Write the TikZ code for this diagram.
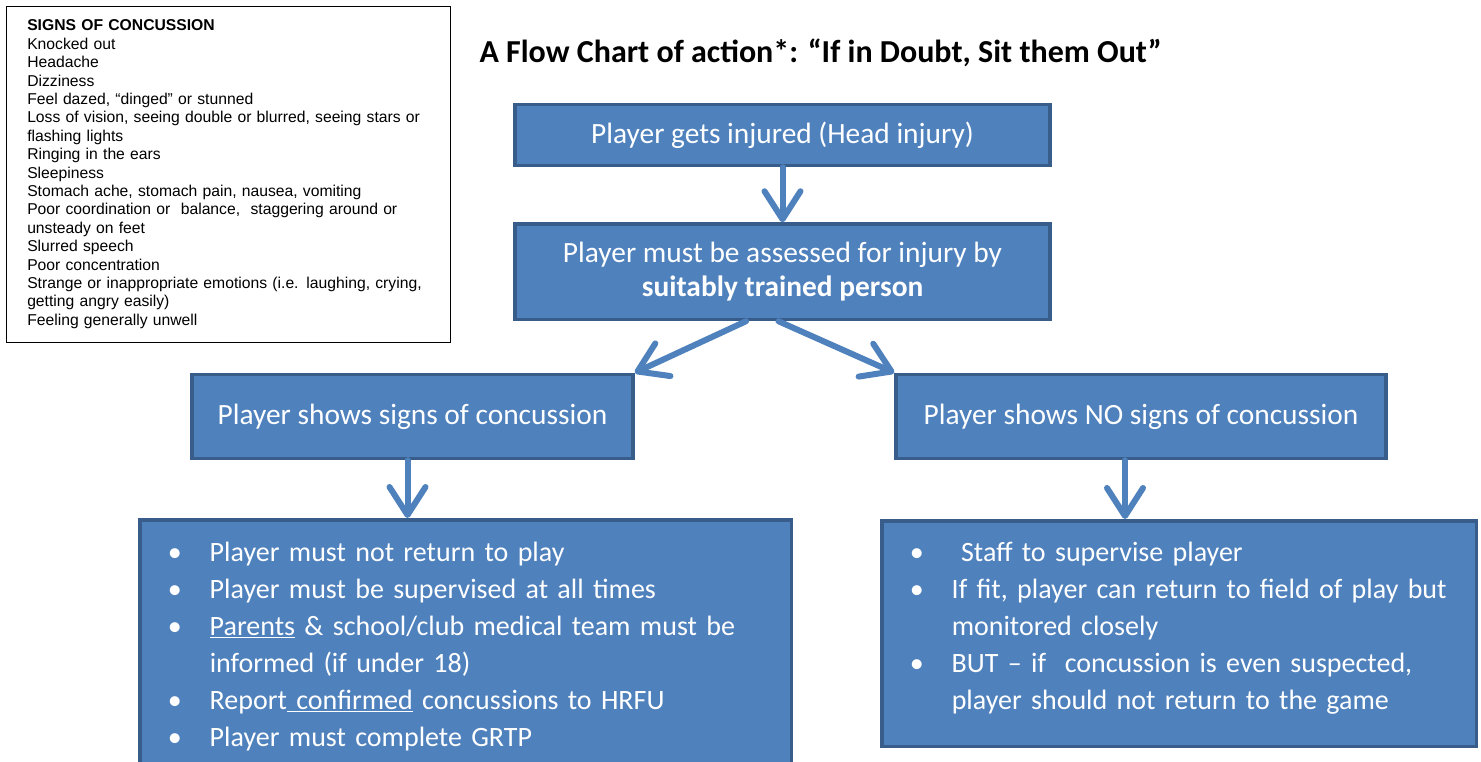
\documentclass[tikz,border=0pt]{standalone}
\usepackage{fontspec}
\setmainfont{Carlito}
\newfontfamily\arialfont{Liberation Sans}
\usepackage{tikz}
\usetikzlibrary{positioning,arrows.meta}
\definecolor{boxfill}{HTML}{4F81BD}
\definecolor{boxline}{HTML}{385D8A}
\newcommand{\bul}{\makebox[42pt][l]{\textbullet}}
\newcommand{\cont}{\hspace*{42pt}}

\begin{document}
\begin{tikzpicture}[
      x=1pt, y=-1pt,
      node distance=55pt,
      box/.style={draw=boxline,line width=3.5pt,fill=boxfill,text=white,align=center,font=\fontsize{29.4}{34.5}\selectfont},
      list/.style={draw=boxline,line width=3.5pt,fill=boxfill,text=white,align=left,inner xsep=28pt,font=\fontsize{28}{37}\selectfont},
      arr/.style={-{Straight Barb[length=28pt,width=36pt,round]},line width=6pt,draw=boxfill,line cap=round}
    ]
    \clip (0,0) rectangle (1481,761);

    % signs of concussion
    \node[draw=black, line width=1.5pt, anchor=north west, minimum width=444pt, minimum height=336pt,
          text width=402pt, inner xsep=21pt, align=left, font=\arialfont\fontsize{15.7}{18.4}\selectfont] (signs) at (5.5,5.5)
      {\textbf{SIGNS OF CONCUSSION}\\Knocked out\\Headache\\Dizziness\\Feel dazed, “dinged” or stunned\\
       Loss of vision, seeing double or blurred, seeing stars or\\flashing lights\\Ringing in the ears\\Sleepiness\\
       Stomach ache, stomach pain, nausea, vomiting\\Poor coordination or\ \ balance,\ \ staggering around or\\
       unsteady on feet\\Slurred speech\\Poor concentration\\Strange or inappropriate emotions (i.e. laughing, crying,\\
       getting angry easily)\\Feeling generally unwell};

    \node[anchor=base west, font=\bfseries\fontsize{32}{38}\selectfont] (title) at (476,62)
      {A Flow Chart of action*: “If in Doubt, Sit them Out”};

    % flow
    \node[box, minimum width=535pt, minimum height=61pt] (injured) at (782.5,135) {Player gets injured (Head injury)};
    \node[box, minimum width=535pt, minimum height=95.5pt, below=of injured] (assess)
      {Player must be assessed for injury by\\\textbf{suitably trained person}};
    \node[box, minimum width=441pt, minimum height=84pt] (signsyes) at (412.5,416.5) {Player shows signs of concussion};
    \node[box, minimum width=490pt, minimum height=84pt] (signsno) at (1141,416.5) {Player shows NO signs of concussion};
    \node[list, text width=595.5pt, minimum height=253.5pt, anchor=north] (actyes) at (465.5,518)
      {\bul Player must not return to play\\
       \bul Player must be supervised at all times\\
       \bul\underline{Parents} \& school/club medical team must be\\
       \cont informed (if under 18)\\
       \bul Report\underline{\ confirmed} concussions to HRFU\\
       \bul Player must complete GRTP};
    \node[list, text width=538.5pt, minimum height=225.5pt, anchor=north] (actno) at (1179,519)
      {\bul\ Staff to supervise player\\
       \bul If fit, player can return to field of play but\\
       \cont monitored closely\\
       \bul BUT – if\ \ concussion is even suspected,\\
       \cont player should not return to the game\\[-22pt]\mbox{}};

    \draw[arr] (injured) -- (assess);
    \draw[arr] ([xshift=-36.5pt]assess.south) -- (signsyes.north east);
    \draw[arr] ([xshift=-4pt]assess.south) -- (signsno.north west);
    \draw[arr] ([xshift=-5pt]signsyes.south) -- ([xshift=-5pt]signsyes.south |- actyes.north);
    \draw[arr] ([xshift=-16pt]signsno.south) -- ([xshift=-16pt]signsno.south |- actno.north);
  \end{tikzpicture}
\end{document}
